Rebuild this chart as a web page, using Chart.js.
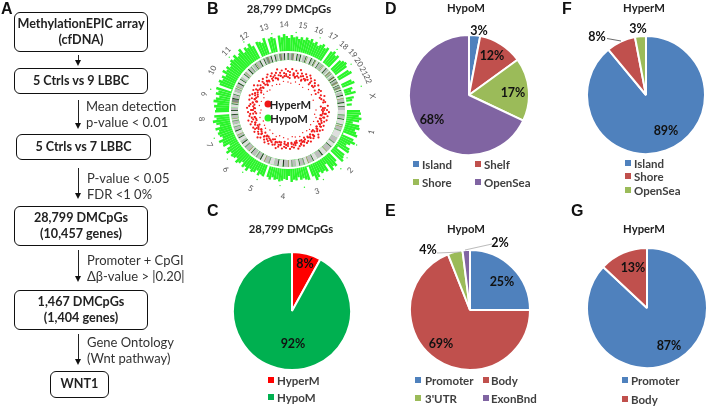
<!DOCTYPE html>
<html>
<head>
<meta charset="utf-8">
<title>DMCpGs figure</title>
<script src="https://cdn.jsdelivr.net/npm/chart.js@4/dist/chart.umd.js"></script>
<style>
  html, body { margin: 0; padding: 0; background: #fff; }
  #page { position: relative; width: 708px; height: 406px; overflow: hidden; font-family: Lato, sans-serif; color: #1a1a1a; filter: blur(0.3px); }
  #page canvas { position: absolute; }
  .mid { position: absolute; transform: translate(-50%, -50%); white-space: nowrap; }
  .panel { position: absolute; font: bold 16px "Liberation Sans", sans-serif; color: #111; line-height: 1; }
  .title { font-weight: 700; font-size: 11.3px; color: #222; }
  .box { position: absolute; box-sizing: border-box; border: 1.5px solid #111; border-radius: 6px; background: #fff;
         display: flex; align-items: center; justify-content: center; text-align: center;
         font-weight: 700; font-size: 12.6px; line-height: 16.5px; color: #222; }
  .step { position: absolute; font-size: 13px; line-height: 16px; color: #333; white-space: nowrap; }
  .shaft { position: absolute; width: 1.2px; background: #222; }
  .head { position: absolute; width: 0; height: 0; border-left: 3.5px solid transparent; border-right: 3.5px solid transparent; border-top: 6px solid #111; }
  .pct { font-weight: 700; font-size: 12.5px; color: #111; }
  .key { position: absolute; font-weight: 700; font-size: 11.5px; color: #404040; white-space: nowrap; transform: translateY(-50%); }
  .swatch { position: absolute; width: 6px; height: 6px; transform: translateY(-50%); }
  .chrom { position: absolute; font-size: 8px; color: #555; }
  .dot { position: absolute; width: 7px; height: 7px; border-radius: 50%; transform: translate(-50%, -50%); }
  .inner { font-weight: 700; font-size: 11.2px; color: #222; }
  svg { position: absolute; left: 0; top: 0; }
</style>
</head>
<body>
<div id="page">
  <div class="panel" style="left:1px;top:1px">A</div>
  <div class="panel" style="left:207px;top:1px">B</div>
  <div class="panel" style="left:207px;top:203px">C</div>
  <div class="panel" style="left:385px;top:1px">D</div>
  <div class="panel" style="left:385px;top:203px">E</div>
  <div class="panel" style="left:562px;top:1px">F</div>
  <div class="panel" style="left:571px;top:203px">G</div>

  <!-- flow chart, panel A -->
  <div class="box" style="left:14px;top:12px;width:134px;height:40px">MethylationEPIC array<br>(cfDNA)</div>
  <div class="box" style="left:14px;top:68px;width:134px;height:26px">5 Ctrls vs 9 LBBC</div>
  <div class="box" style="left:16px;top:134px;width:135px;height:26px">5 Ctrls vs 7 LBBC</div>
  <div class="box" style="left:14px;top:206px;width:134px;height:40px">28,799 DMCpGs<br>(10,457 genes)</div>
  <div class="box" style="left:14px;top:290px;width:134px;height:40px">1,467 DMCpGs<br>(1,404 genes)</div>
  <div class="box" style="left:50px;top:371px;width:59px;height:27px">WNT1</div>

  <div class="shaft" style="left:77.5px;top:55px;height:6px"></div><div class="head" style="left:74.5px;top:60px"></div>
  <div class="shaft" style="left:77.5px;top:100px;height:24px"></div><div class="head" style="left:74.5px;top:123px"></div>
  <div class="shaft" style="left:77.5px;top:168px;height:26px"></div><div class="head" style="left:74.5px;top:193px"></div>
  <div class="shaft" style="left:77.5px;top:250px;height:27px"></div><div class="head" style="left:74.5px;top:276px"></div>
  <div class="shaft" style="left:77.5px;top:334px;height:26px"></div><div class="head" style="left:74.5px;top:359px"></div>

  <div class="step" style="left:86px;top:98px">Mean detection<br>p-value &lt; 0.01</div>
  <div class="step" style="left:87px;top:170px">P-value &lt; 0.05<br>FDR &lt;1 0%</div>
  <div class="step" style="left:87px;top:252px">Promoter + CpGI<br>Δβ-value &gt; |0.20|</div>
  <div class="step" style="left:87px;top:334px">Gene Ontology<br>(Wnt pathway)</div>

  <!-- circular plot, panel B -->
  <div class="mid title" style="left:289px;top:8px">28,799 DMCpGs</div>
  <canvas id="hypoRing" width="180" height="180" style="left:198px;top:20px"></canvas>
  <canvas id="ideogram" width="118" height="118" style="left:229px;top:51px"></canvas>
  <canvas id="hyperDots" width="180" height="180" style="left:198px;top:20px"></canvas>
  <div id="chromLabels"></div>
  <div class="dot" style="left:268px;top:104px;background:#f01515"></div>
  <div class="dot" style="left:268px;top:118px;background:#28f028"></div>
  <div class="mid inner" style="left:290.5px;top:104px">HyperM</div>
  <div class="mid inner" style="left:289px;top:118px">HypoM</div>

  <!-- pies -->
  <div class="mid title" style="left:291px;top:228px">28,799 DMCpGs</div>
  <div class="mid title" style="left:466px;top:7px">HypoM</div>
  <div class="mid title" style="left:466px;top:228px">HypoM</div>
  <div class="mid title" style="left:644px;top:7px">HyperM</div>
  <div class="mid title" style="left:644px;top:228px">HyperM</div>
  <canvas id="pieC" width="120" height="120" style="left:232px;top:251px"></canvas>
  <canvas id="pieD" width="122" height="122" style="left:408px;top:34px"></canvas>
  <canvas id="pieE" width="122" height="122" style="left:409px;top:249px"></canvas>
  <canvas id="pieF" width="120" height="120" style="left:586px;top:35px"></canvas>
  <canvas id="pieG" width="122" height="122" style="left:586px;top:247px"></canvas>
  <svg width="708" height="406">
    <line x1="607" y1="38.5" x2="621" y2="41" stroke="#444" stroke-width="0.8"/>
    <line x1="437" y1="253" x2="461" y2="252" stroke="#aaa" stroke-width="0.8"/>
    <line x1="492" y1="244" x2="465" y2="250" stroke="#aaa" stroke-width="0.8"/>
  </svg>
</div>

<script>
// ==========================================
// DATA
// ==========================================

const C_CATEGORIES = ['HyperM', 'HypoM'];
const C_VALUES = [8, 92];
const D_CATEGORIES = ['Island', 'Shelf', 'Shore', 'OpenSea'];
const D_VALUES = [3, 12, 17, 68];
const E_CATEGORIES = ['Promoter', 'Body', "3'UTR", 'ExonBnd'];
const E_VALUES = [25, 69, 4, 2];
const F_CATEGORIES = ['Island', 'Shore', 'OpenSea'];
const F_VALUES = [89, 8, 3];
const G_CATEGORIES = ['Promoter', 'Body'];
const G_VALUES = [87, 13];

const chromNames = ['1','2','3','4','5','6','7','8','9','10','11','12','13','14','15','16','17','18','19','20','21','22','X'];
const chromSizes = [249,243,198,191,181,171,159,146,141,135,135,133,115,107,102,90,81,78,59,63,48,51,155];

// cytoband lengths, chr1 to chrX
const bandSizes = [
  40,8,30,6,42,8,10,5,30,8,62,  45,8,35,6,50,5,40,10,44,  38,6,42,5,30,8,33,6,30,
  30,8,22,5,40,10,36,8,32,  40,8,36,5,30,10,32,8,12,  35,6,20,5,40,10,30,8,17,
  30,7,22,5,30,8,30,6,21,  25,6,14,4,30,8,30,7,22,  28,6,12,4,24,8,30,6,23,
  25,6,8,4,30,8,30,6,18,  30,6,16,4,28,8,24,6,13,  22,6,6,4,32,8,30,6,19,
  16,4,20,8,26,8,18,15,  16,4,22,8,24,8,25,  18,4,24,8,22,8,18,
  24,6,6,4,30,8,12,  14,6,5,4,25,6,21,  12,4,5,4,26,8,19,
  16,6,4,12,6,15,  14,6,4,14,6,19,  11,4,3,14,6,10,  12,4,3,12,6,14,
  25,8,20,5,30,8,25,6,28
];
const bandStains = [
  'WMLDWMWRLMW','LMWDLRWDL','WDLRWMLDW','LMWRLDWDL','WMLRWDLMW','LDWRLMWDL',
  'WDLRWDLMW','LMWRLDWDL','WDLRMDLDW','LMWRLDWDL','WDLRWDLMW','LDWRLDWDL',
  'MRLDWDLW','MRLDWDL','MRWDLDW','LDWRWDL','WDLRWDL','LMWRWDL',
  'WMRLMW','LDRWDL','MRLWDL','MRLWDW','LDWRLDWDL'
].join('').split('');

// hypomethylated track, one value per 2 degrees going clockwise from chr1
const hypoTrack = [
  72,73,71,74,72,66,73,74,70,72,
  74,60,72,75,71,68,73,74,62,72,
  73,75,58,70,74,72,75,66,73,71,
  72,70,74,76,71,60,73,72,70,71,
  68,71,70,72,66,70,69,71,72,70,
  71,69,72,70,58,71,70,72,68,71,
  72,70,74,71,73,69,72,74,70,72,
  73,71,75,72,68,74,73,76,71,73,
  74,72,75,70,73,76,72,74,58,73,
  72,74,71,75,73,70,74,72,75,60,
  73,75,72,74,71,76,73,75,72,74,
  76,74,77,73,75,78,72,76,74,77,
  73,59,75,74,72,76,60,74,75,73,
  58,75,73,76,74,72,75,73,74,72,
  74,72,75,73,75,72,74,71,73,75,
  72,74,58,73,75,72,74,58,72,74,
  75,73,58,72,74,57,57,70,72,58,
  68,66,70,58,67,65,58,64,57,57
];

// dot tracks, one value per 3 degrees going clockwise from chr1
const hyperOuter = [
  39,41,38,40,37,40,38,36,39,37, 40,38,36,39,41,37,38,36,39,37,
  38,36,39,37,38,40,36,38,37,39, 36,38,37,39,36,38,40,37,38,36,
  39,37,40,38,36,39,41,38,37,40, 38,39,36,40,38,41,37,39,38,40,
  37,41,39,38,36,40,38,41,39,37, 40,38,42,39,37,41,38,40,36,39,
  41,38,40,37,39,42,38,40,37,41, 39,38,41,37,40,38,42,39,37,40,
  38,41,39,37,40,38,36,39,null,37, 38,null,36,39,null,37,38,null,40,37
];
const hyperMiddle = [
  36,35,37,34,36,33,35,null,34,36, 33,35,null,34,32,36,33,35,33,null,
  34,35,33,36,null,34,33,35,34,null, 33,35,34,null,33,36,34,35,null,33,
  35,34,36,33,35,null,36,34,33,35, 36,34,null,35,33,36,34,null,35,33,
  36,34,35,null,36,33,35,34,36,null, 35,36,33,35,34,null,36,33,35,34,
  null,35,36,34,33,36,35,null,34,36, 33,35,null,36,34,35,null,36,33,35,
  34,36,null,35,null,34,null,null,33,null, 35,null,null,34,null,null,36,null,null,35
];
const hyperInner = [
  34,null,35,33,null,34,null,32,35,null, 33,34,null,32,null,35,33,null,34,null,
  32,null,35,33,null,32,34,null,33,null, 34,null,32,null,35,33,null,34,32,null,
  35,null,33,34,null,32,35,null,33,null, 34,32,null,35,null,33,34,null,32,null,
  35,33,null,34,null,32,35,null,33,34, null,32,35,null,33,null,34,32,null,35,
  null,33,null,34,32,null,35,33,null,34, null,32,null,35,33,null,34,null,32,null,
  35,null,null,33,null,null,34,null,null,null, 32,null,null,null,35,null,null,null,33,null
];
const hyperSparse = [
  28,null,null,27,null,29,null,null,28,null, null,27,null,null,29,null,28,null,null,27,
  null,null,29,null,null,28,null,27,null,null, 29,null,null,28,null,null,27,null,29,null,
  null,28,null,null,27,null,null,29,null,28, null,null,27,null,null,29,null,null,28,null,
  27,null,null,29,null,null,28,null,null,27, null,29,null,null,28,null,27,null,null,29,
  null,null,28,null,27,null,null,29,null,null, 28,null,27,null,null,29,null,null,28,null,
  null,27,null,null,null,29,null,null,null,28, null,null,null,27,null,null,null,null,null,null
];
const hypoStray = [
  null,null,null,null,null,null,null,null,null,77, null,null,null,76,null,null,79,null,null,null,
  null,78,null,null,null,null,79,null,null,null, null,null,76,null,null,null,null,null,76,null,
  null,null,77,null,null,null,null,78,null,null, null,null,null,79,null,null,null,null,null,null,
  null,null,null,null,null,80,null,null,null,null, null,null,null,null,79,null,null,null,null,81,
  null,null,null,null,null,null,78,null,null,null, null,null,78,null,null,null,null,null,79,null,
  null,null,null,78,null,null,null,null,78,null, null,null,null,null,77,null,null,null,null,null
];

// ==========================================
// COLOURS
// ==========================================

const OFFICE = { blue: '#4F81BD', red: '#C0504D', green: '#9BBB59', purple: '#8064A2' };
const STAIN_COLORS = { W: '#dedede', L: '#bdbdbd', M: '#858585', D: '#2a2a2a', R: '#cf5f5f' };
const HYPO_GREEN = '#2bf52b';
const HYPER_RED = '#f01c1c';

const page = document.getElementById('page');

// ==========================================
// HELPERS
// ==========================================

function addPie(id, values, colors) {
    new Chart(document.getElementById(id), {
        type: 'pie',
        data: {
            labels: values.map((v, i) => i),
            datasets: [{ data: values, backgroundColor: colors, borderColor: '#fff', borderWidth: 2 }]
        },
        options: {
            responsive: false,
            animation: false,
            events: [],
            plugins: { legend: { display: false }, tooltip: { enabled: false } }
        }
    });
}

function addPct(value, x, y) {
    const el = document.createElement('div');
    el.className = 'mid pct';
    el.style.left = x + 'px';
    el.style.top = y + 'px';
    el.textContent = value + '%';
    page.appendChild(el);
}

function addKey(name, color, swatchX, textX, y) {
    const sw = document.createElement('div');
    sw.className = 'swatch';
    sw.style.cssText = `left:${swatchX}px;top:${y}px;background:${color}`;
    page.appendChild(sw);
    const el = document.createElement('div');
    el.className = 'key';
    el.style.cssText = `left:${textX}px;top:${y}px`;
    el.textContent = name;
    page.appendChild(el);
}

// Chromosome names around the ring, placed from the chromosome sizes
function addChromLabels() {
    const total = chromSizes.reduce((a, b) => a + b, 0);
    const holder = document.getElementById('chromLabels');
    let run = 0;
    chromNames.forEach((name, i) => {
        const deg = 90 + (run + chromSizes[i] / 2) * 360 / total;
        run += chromSizes[i];
        const rad = (deg - 90) * Math.PI / 180;
        const el = document.createElement('div');
        el.className = 'chrom';
        el.style.left = (288 + 86 * Math.cos(rad)) + 'px';
        el.style.top = (110 + 86 * Math.sin(rad)) + 'px';
        const norm = deg % 360;
        const turn = (norm > 90 && norm < 270) ? norm - 180 : norm;
        el.style.transform = `translate(-50%, -50%) rotate(${turn}deg)`;
        el.textContent = name;
        holder.appendChild(el);
    });
}

// ==========================================
// CIRCULAR PLOT
// ==========================================

function initCircular() {
    new Chart(document.getElementById('hypoRing'), {
        type: 'polarArea',
        data: {
            labels: hypoTrack.map((v, i) => i),
            datasets: [{ data: hypoTrack, backgroundColor: HYPO_GREEN, borderWidth: 0 }]
        },
        options: {
            responsive: false,
            animation: false,
            events: [],
            scales: { r: { display: false, min: 0, max: 90, startAngle: 90 } },
            plugins: { legend: { display: false }, tooltip: { enabled: false } }
        }
    });

    new Chart(document.getElementById('ideogram'), {
        type: 'doughnut',
        data: {
            labels: bandSizes.map((v, i) => i),
            datasets: [
                { data: [1], backgroundColor: '#fff', borderWidth: 0, weight: 2 },
                { data: bandSizes, backgroundColor: bandStains.map(s => STAIN_COLORS[s]), borderWidth: 0, weight: 7 },
                { data: [1], backgroundColor: '#fff', borderWidth: 0, weight: 50 }
            ]
        },
        options: {
            responsive: false,
            animation: false,
            events: [],
            cutout: 0,
            rotation: 90,
            plugins: { legend: { display: false }, tooltip: { enabled: false } }
        }
    });

    const dotSeries = (data, color, size) => ({
        data, fill: false, showLine: false, borderWidth: 0, borderColor: 'transparent', backgroundColor: 'transparent',
        pointRadius: size, pointBorderWidth: 0, pointBackgroundColor: color
    });
    new Chart(document.getElementById('hyperDots'), {
        type: 'radar',
        data: {
            labels: hyperOuter.map((v, i) => i),
            datasets: [
                dotSeries(hyperOuter, HYPER_RED, 1.1),
                dotSeries(hyperMiddle, HYPER_RED, 1.1),
                dotSeries(hyperInner, HYPER_RED, 1.1),
                dotSeries(hyperSparse, HYPER_RED, 0.7),
                dotSeries(hypoStray, HYPO_GREEN, 0.7)
            ]
        },
        options: {
            responsive: false,
            animation: false,
            events: [],
            scales: { r: { display: false, min: 0, max: 90, startAngle: 90 } },
            plugins: { legend: { display: false }, tooltip: { enabled: false } }
        }
    });
}

// ==========================================
// BUILD
// ==========================================

initCircular();
addChromLabels();

addPie('pieC', C_VALUES, ['#FF0000', '#00B050']);
addPie('pieD', D_VALUES, [OFFICE.blue, OFFICE.red, OFFICE.green, OFFICE.purple]);
addPie('pieE', E_VALUES, [OFFICE.blue, OFFICE.red, OFFICE.green, OFFICE.purple]);
addPie('pieF', F_VALUES, [OFFICE.blue, OFFICE.red, OFFICE.green]);
addPie('pieG', G_VALUES, [OFFICE.blue, OFFICE.red]);

addPct(C_VALUES[0], 305, 263);
addPct(C_VALUES[1], 293, 343);
addPct(D_VALUES[0], 479, 30);
addPct(D_VALUES[1], 492, 55);
addPct(D_VALUES[2], 513, 92);
addPct(D_VALUES[3], 432, 119);
addPct(E_VALUES[0], 502, 281);
addPct(E_VALUES[1], 441, 343);
addPct(E_VALUES[2], 428, 249);
addPct(E_VALUES[3], 500, 242);
addPct(F_VALUES[0], 666, 130);
addPct(F_VALUES[1], 597, 36);
addPct(F_VALUES[2], 638, 28);
addPct(G_VALUES[0], 669, 345);
addPct(G_VALUES[1], 633, 267);

addKey(C_CATEGORIES[0], '#FF0000', 268, 277, 380);
addKey(C_CATEGORIES[1], '#00B050', 268, 277, 397);
addKey(D_CATEGORIES[0], OFFICE.blue, 413, 422, 164);
addKey(D_CATEGORIES[1], OFFICE.red, 475, 484, 164);
addKey(D_CATEGORIES[2], OFFICE.green, 413, 422, 182);
addKey(D_CATEGORIES[3], OFFICE.purple, 475, 484, 182);
addKey(E_CATEGORIES[0], OFFICE.blue, 415, 425, 380);
addKey(E_CATEGORIES[1], OFFICE.red, 483, 491, 380);
addKey(E_CATEGORIES[2], OFFICE.green, 415, 425, 398);
addKey(E_CATEGORIES[3], OFFICE.purple, 483, 491, 398);
addKey(F_CATEGORIES[0], OFFICE.blue, 625, 634, 163);
addKey(F_CATEGORIES[1], OFFICE.red, 625, 634, 176);
addKey(F_CATEGORIES[2], OFFICE.green, 625, 634, 190);
addKey(G_CATEGORIES[0], OFFICE.blue, 622, 631, 380);
addKey(G_CATEGORIES[1], OFFICE.red, 622, 631, 399);
</script>
</body>
</html>
